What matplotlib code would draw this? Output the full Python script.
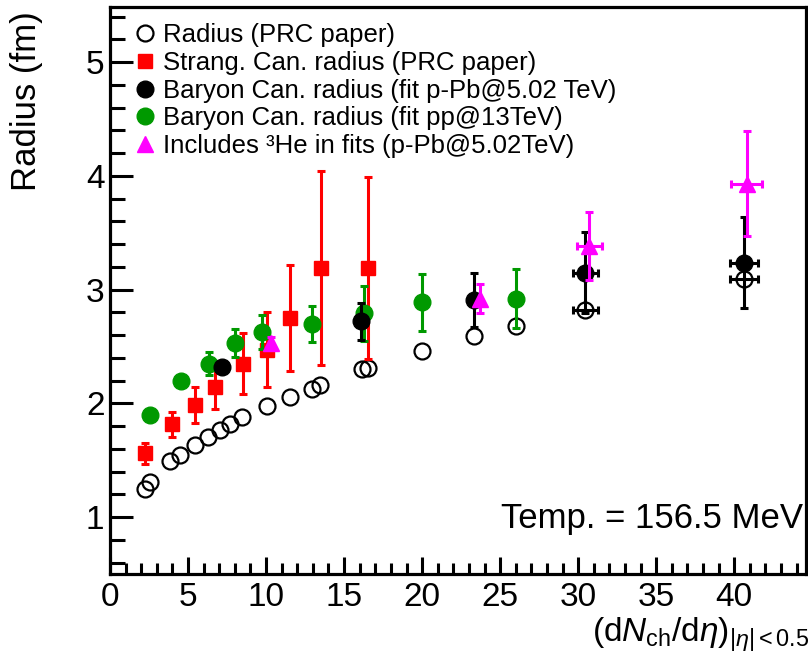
import matplotlib
matplotlib.use("Agg")
import matplotlib.pyplot as plt
from matplotlib.lines import Line2D
from matplotlib.ticker import MultipleLocator

plt.rcParams['font.family'] = ['Liberation Sans', 'DejaVu Sans']
plt.rcParams['mathtext.fontset'] = 'custom'
plt.rcParams['mathtext.rm'] = 'Liberation Sans'
plt.rcParams['mathtext.it'] = 'Liberation Sans:italic'

# Radius (PRC paper)
prc_x = [2.25, 2.55, 3.85, 4.5, 5.45, 6.3, 7.05, 7.7, 8.45, 10.05, 11.55, 12.95, 13.45,
         16.15, 16.55, 20.0, 23.3, 26.0, 30.45, 40.65]
prc_y = [1.25, 1.31, 1.49, 1.545, 1.63, 1.705, 1.765, 1.82, 1.88, 1.98, 2.06, 2.13, 2.16,
         2.30, 2.31, 2.46, 2.59, 2.68, 2.82, 3.09]
prc_xerr = [0] * 18 + [0.8, 0.9]

# Strang. Can. radius (PRC paper)
sc_x = [2.25, 3.95, 5.45, 6.7, 8.5, 10.05, 11.55, 13.5, 16.55]
sc_y = [1.56, 1.815, 1.985, 2.146, 2.35, 2.47, 2.75, 3.19, 3.19]
sc_err = [0.09, 0.11, 0.155, 0.2, 0.27, 0.33, 0.47, 0.85, 0.80]

# Baryon Can. radius (fit p-Pb@5.02 TeV)
bp_x = [7.2, 16.1, 23.3, 30.45, 40.65]
bp_y = [2.32, 2.72, 2.91, 3.15, 3.235]
bp_yerr = [0.05, 0.165, 0.24, 0.36, 0.40]
bp_xerr = [0, 0, 0, 0.8, 0.9]

# Baryon Can. radius (fit pp@13TeV)
pp_x = [2.55, 4.55, 6.35, 8.0, 9.75, 12.95, 16.25, 20.0, 26.0]
pp_y = [1.90, 2.20, 2.35, 2.53, 2.63, 2.70, 2.79, 2.89, 2.92]
pp_err = [0.03, 0.04, 0.1, 0.125, 0.15, 0.16, 0.24, 0.25, 0.26]

# Includes 3He in fits (p-Pb@5.02TeV)
he_x = [10.3, 23.7, 30.7, 40.8]
he_y = [2.53, 2.92, 3.38, 3.93]
he_yerr = [0.05, 0.13, 0.3, 0.46]
he_xerr = [0, 0, 0.8, 1.0]

labels = ['Radius (PRC paper)',
          'Strang. Can. radius (PRC paper)',
          'Baryon Can. radius (fit p-Pb@5.02 TeV)',
          'Baryon Can. radius (fit pp@13TeV)',
          'Includes \u00b3He in fits (p-Pb@5.02TeV)']

red = '#ff0000'
green = '#009900'
magenta = '#ff00ff'

fig = plt.figure(figsize=(8.08, 6.67), dpi=100)
ax = fig.add_axes([110 / 808, 1 - 574 / 667, 696 / 808, 567 / 667])

eb = dict(linestyle='none', elinewidth=2.2, capsize=2.6, capthick=2.2)


def xerr_bars(x, y, xe, color, z):
    # only the points that really have a horizontal error
    pts = [(a, b, e) for a, b, e in zip(x, y, xe) if e > 0]
    if pts:
        ax.errorbar([p[0] for p in pts], [p[1] for p in pts], xerr=[p[2] for p in pts],
                    fmt='none', ecolor=color, zorder=z, elinewidth=2.2, capsize=2.6,
                    capthick=2.2)


# open circles
xerr_bars(prc_x, prc_y, prc_xerr, 'black', 2)
ax.plot(prc_x, prc_y, ls='none', marker='o', ms=11.5, mfc='none', mec='black', mew=1.6, zorder=2)

ax.errorbar(sc_x, sc_y, yerr=sc_err, fmt='s', ms=10, color=red, zorder=3, **eb)
ax.errorbar(pp_x, pp_y, yerr=pp_err, fmt='o', ms=12, color=green, zorder=4, **eb)

xerr_bars(bp_x, bp_y, bp_xerr, 'black', 5)
ax.errorbar(bp_x, bp_y, yerr=bp_yerr, fmt='o', ms=12, color='black', zorder=5, **eb)

xerr_bars(he_x, he_y, he_xerr, magenta, 6)
ax.errorbar(he_x, he_y, yerr=he_yerr, fmt='^', ms=11, color=magenta, zorder=6, **eb)

ax.set_xlim(0, 44.6)
ax.set_ylim(0.5, 5.484)
ax.xaxis.set_minor_locator(MultipleLocator(1))
ax.yaxis.set_minor_locator(MultipleLocator(0.2))
ax.set_xticks([0, 5, 10, 15, 20, 25, 30, 35, 40])
ax.set_yticks([1, 2, 3, 4, 5])

for s in ax.spines.values():
    s.set_linewidth(2.3)
ax.tick_params(which='both', direction='in', width=2.2, labelsize=24, top=False, right=False)
ax.tick_params(axis='y', which='major', length=16.5, pad=4)
ax.tick_params(axis='y', which='minor', length=10.8)
ax.tick_params(axis='x', which='major', length=12.2, pad=6)
ax.tick_params(axis='x', which='minor', length=8)

handles = [
    Line2D([], [], ls='none', marker='o', ms=11.5, mfc='none', mec='black', mew=1.6),
    Line2D([], [], ls='none', marker='s', ms=10, color=red),
    Line2D([], [], ls='none', marker='o', ms=12, color='black'),
    Line2D([], [], ls='none', marker='o', ms=12, color=green),
    Line2D([], [], ls='none', marker='^', ms=11, color=magenta),
]
ax.legend(handles, labels, loc='upper left', bbox_to_anchor=(0.0366, 0.971),
          frameon=False, fontsize=18.5, handlelength=0.75, handletextpad=0.32,
          labelspacing=0.14, borderpad=0, borderaxespad=0)

fig.text(803 / 808, 1 - 528 / 667, 'Temp. = 156.5 MeV', fontsize=25,
         ha='right', va='baseline')

fig.text(27 / 808, 1 - 101 / 667, 'Radius (fm)', fontsize=25, rotation=90,
         ha='center', va='center')
fig.text(592 / 808, 1 - 642 / 667,
         r'$(\mathrm{d}N_{\mathrm{ch}}/\mathrm{d}\eta)_{|\eta|<0.5}$',
         fontsize=24, ha='left', va='baseline')

fig.savefig('out.png', dpi=100)
